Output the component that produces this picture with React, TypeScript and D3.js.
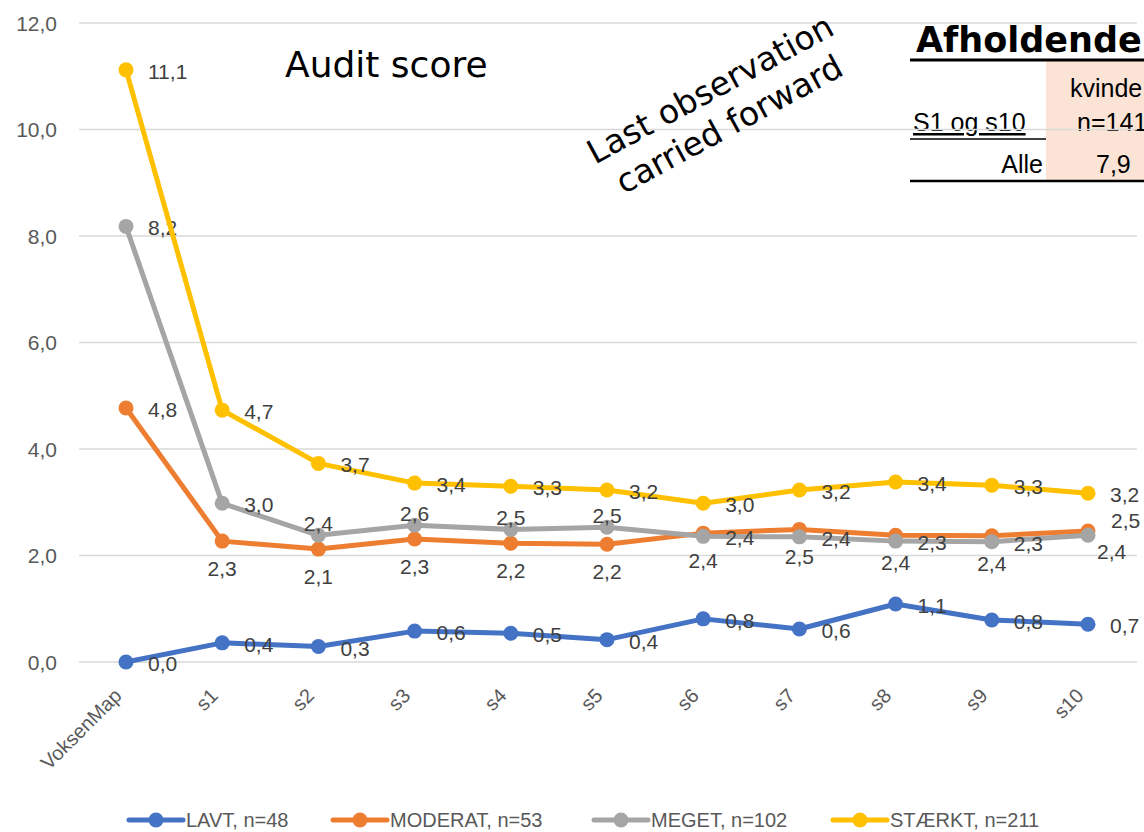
import React from 'react';
import * as d3 from 'd3';

const categories = ['VoksenMap', 's1', 's2', 's3', 's4', 's5', 's6', 's7', 's8', 's9', 's10'];
const lavt = [0.0, 0.36, 0.29, 0.58, 0.54, 0.42, 0.81, 0.62, 1.09, 0.79, 0.71];
const moderat = [4.77, 2.27, 2.12, 2.31, 2.23, 2.21, 2.42, 2.49, 2.38, 2.37, 2.46];
const meget = [8.18, 2.98, 2.38, 2.57, 2.49, 2.53, 2.36, 2.35, 2.27, 2.26, 2.38];
const staerkt = [11.12, 4.73, 3.73, 3.36, 3.3, 3.23, 2.98, 3.23, 3.38, 3.32, 3.17];
const seriesNames = ['LAVT, n=48', 'MODERAT, n=53', 'MEGET, n=102', 'STÆRKT, n=211'];
const yTicks = [0, 2, 4, 6, 8, 10, 12];

// label placement codes (style only)
const lavtPos = ['r', 'r', 'r', 'r', 'r', 'r', 'r', 'r', 'r', 'r', 'r'];
const moderatPos = ['r', 'b', 'b', 'b', 'b', 'b', 'b', 'b', 'b', 'b', 'rt'];
const megetPos = ['r', 'r', 't', 't', 't', 't', 'r', 'r', 'r', 'r', 'rb'];
const staerktPos = ['r', 'r', 'r', 'r', 'r', 'r', 'r', 'r', 'r', 'r', 'r'];

const series = [
  { name: seriesNames[0], values: lavt, pos: lavtPos, color: '#4472C4' },
  { name: seriesNames[1], values: moderat, pos: moderatPos, color: '#ED7D31' },
  { name: seriesNames[2], values: meget, pos: megetPos, color: '#A5A5A5' },
  { name: seriesNames[3], values: staerkt, pos: staerktPos, color: '#FFC000' },
];

const W = 1144;
const H = 832;
const plotLeft = 79;
const plotRight = 1137;
const fmt = (v: number) => d3.format('.1f')(v).replace('.', ',');
const FONT = "'Liberation Sans', Arial, sans-serif";
const GOTHIC = "'Century Gothic', 'URW Gothic', 'DejaVu Sans', sans-serif";

export default function App() {
  const x = d3.scalePoint<string>().domain(categories).range([126, 1088]);
  const y = d3.scaleLinear().domain([0, 12]).range([662, 23]);
  const line = d3
    .line<number>()
    .x((_, i) => x(categories[i]) as number)
    .y((d) => y(d));

  const legendX = [129, 333, 594, 833];

  const labelProps = (code: string, px: number, py: number) => {
    switch (code) {
      case 'b':
        return { x: px, y: py + 35, anchor: 'middle' };
      case 't':
        return { x: px, y: py - 4, anchor: 'middle' };
      case 'rt':
        return { x: px + 23, y: py - 3, anchor: 'start' };
      case 'rb':
        return { x: px + 9, y: py + 24, anchor: 'start' };
      default:
        return { x: px + 22, y: py + 9, anchor: 'start' };
    }
  };

  return (
    <svg
      width={W}
      height={H}
      style={{ position: 'absolute', left: 0, top: 0, background: '#fff' }}
    >
      {/* table in top right */}
      <g>
        <rect x={1046} y={61} width={98} height={119} fill="#FBE4D5" />
        <text x={916} y={52} fontFamily={GOTHIC} fontWeight="bold" fontSize={35} fill="#000">
          Afholdende
        </text>
        <line x1={910} x2={1144} y1={60} y2={60} stroke="#000" strokeWidth={3} />
        <line x1={910} x2={1046} y1={139} y2={139} stroke="#000" strokeWidth={1.5} />
        <line x1={910} x2={1144} y1={181} y2={181} stroke="#000" strokeWidth={2.5} />
        <text x={1070} y={97} fontFamily={FONT} fontSize={25} fill="#000">kvinde</text>
        <text x={1077} y={131} fontFamily={FONT} fontSize={25} fill="#000">n=141</text>
        <text x={913} y={131} fontFamily={FONT} fontSize={25} fill="#000" textDecoration="underline">
          S1 og s10
        </text>
        <text x={1043} y={173} fontFamily={FONT} fontSize={25} fill="#000" textAnchor="end">Alle</text>
        <text x={1096} y={173} fontFamily={FONT} fontSize={25} fill="#000">7,9</text>
      </g>

      {/* gridlines */}
      {yTicks.map((t) => (
        <line key={t} x1={plotLeft} x2={plotRight} y1={y(t)} y2={y(t)} stroke="#D9D9D9" strokeWidth={1.5} />
      ))}
      {yTicks.map((t) => (
        <text key={'yl' + t} x={57} y={y(t) + 7.5} textAnchor="end" fontFamily={FONT} fontSize={21} fill="#595959">
          {fmt(t)}
        </text>
      ))}

      {/* x labels */}
      {categories.map((c) => (
        <text
          key={c}
          transform={`translate(${(x(c) as number) - 8},${692}) rotate(-45)`}
          textAnchor="end"
          dy="0.35em"
          fontFamily={FONT}
          fontSize={20}
          fill="#595959"
        >
          {c}
        </text>
      ))}

      {/* titles */}
      <text x={285} y={77} fontFamily={GOTHIC} fontSize={36} fill="#000">Audit score</text>
      <g transform="translate(710,89) rotate(-28.5)">
        <text x={0} y={0} dy="0.35em" textAnchor="middle" fontFamily={GOTHIC} fontSize={33} fill="#000">
          Last observation
        </text>
        <text x={0} y={40} dy="0.35em" textAnchor="middle" fontFamily={GOTHIC} fontSize={33} fill="#000">
          carried forward
        </text>
      </g>

      {/* series */}
      {series.map((s) => (
        <g key={s.name}>
          <path d={line(s.values) || ''} fill="none" stroke={s.color} strokeWidth={5} strokeLinejoin="round" />
          {s.values.map((v, i) => (
            <circle key={i} cx={x(categories[i]) as number} cy={y(v)} r={7.5} fill={s.color} />
          ))}
          {s.values.map((v, i) => {
            const lp = labelProps(s.pos[i], x(categories[i]) as number, y(v));
            return (
              <text
                key={'l' + i}
                x={lp.x}
                y={lp.y}
                textAnchor={lp.anchor as any}
                fontFamily={FONT}
                fontSize={21}
                fill="#404040"
              >
                {fmt(v)}
              </text>
            );
          })}
        </g>
      ))}

      {/* legend */}
      {series.map((s, i) => (
        <g key={'lg' + i} transform={`translate(${legendX[i]},820)`}>
          <line x1={0} x2={54} y1={0} y2={0} stroke={s.color} strokeWidth={5} strokeLinecap="round" />
          <circle cx={27} cy={0} r={7.5} fill={s.color} />
          <text x={57} y={7} fontFamily={FONT} fontSize={20} fill="#595959">
            {s.name}
          </text>
        </g>
      ))}
    </svg>
  );
}
